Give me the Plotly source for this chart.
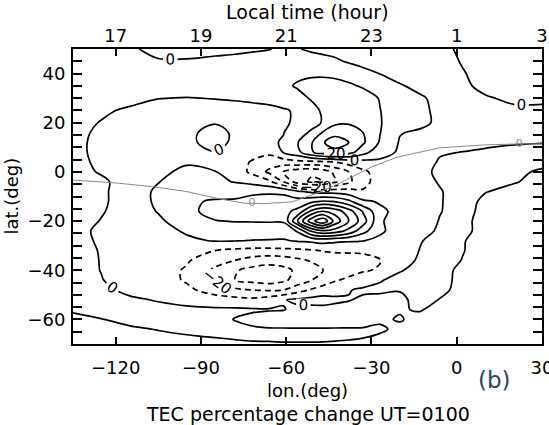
import plotly.graph_objects as go

# grid (deg) on which the TEC percentage change was read
lon = [-135, -125, -115, -105, -95, -85, -78, -72, -66, -61, -56, -51, -47, -43,
       -38, -33, -27, -20, -13, -6, 2, 10, 20, 30]
lat = [50, 45, 40, 35, 30, 25, 20, 16, 12, 8, 4, 0, -4, -8, -12, -16, -20, -24,
       -28, -32, -36, -40, -44, -48, -52, -56, -60, -64, -67, -70]

# TEC percentage change (%) at each lat row / lon column
tec_change = [
    [4, 3, 1, -2, -2, -2, -1.5, -1, -0.3, 1.5, 0.5, -1.5, -2.5, -3, -4, -4, -4, -4, -4, -1.5, 1, 3, 4, 4],
    [4, 4, 3, 0.6, 0.5, 1.5, 2, 3, 4, 5, 5, 4, 3, 1.5, -1, -3, -4, -4, -4, -3, 0.5, 3, 4, 4],
    [4, 5, 5, 4, 3, 3, 3, 4, 5, 7, 8, 8.5, 8.5, 8, 6, 3, -0.2, -3, -4, -4, -0.5, 2.5, 4, 4],
    [3, 5, 6, 5, 4, 4, 4, 5, 6, 8, 11, 13, 13.5, 13, 11.5, 9, 5, 0.7, -2, -3, -1.5, 2, 3, 3],
    [2, 4, 2, 0.2, -0.3, 0.3, 0.8, 1.5, 1.8, 4, 7, 11, 14, 15, 15, 14, 9.5, 4, 1, -2, -3, -0.8, 1.5, 1],
    [2, 1, -1, -3, -3.5, -3.5, -3, -2.5, -1.5, -0.8, 1, 7, 11.5, 16, 17, 16, 10.2, 5, 1.5, -1.5, -3, -3, -1.5, -1],
    [2, -0.3, -3, -4, -4, -0.5, -3, -3, -2.5, -0.8, 1, 6, 11, 18, 19, 17, 10.5, 5, 2.5, -2, -3.5, -4, -4, -4],
    [1.5, -1, -3, -3.5, -2, 3, -1.5, -3, -2, -0.3, 5, 12, 21, 26, 25, 20, 10.3, 0.5, -1.5, -3, -4, -4, -4, -4],
    [1.5, -1.5, -3, -3, -1.5, 2.5, -1.5, -3.5, -1.5, 0.8, 9.5, 19.5, 29, 36, 30, 21.5, 9, -0.8, -3, -4, -2, -1.5, -0.5, -0.2],
    [1.5, -1.5, -3, -3.5, -2, -0.3, -2.5, -6, -8, 0.5, 7, 19, 25, 26, 24, 14, 3, -1, -3, -0.5, 0.1, 1, 1.5, 2],
    [1.5, -1, -3, -3, -1, -1.5, -5, -11, -15, -15, -13, -13, -12, -10, -6, -3.5, -1.5, -2, -2.5, 0.5, 2, 2.5, 2.5, 2],
    [2, -0.5, -3, -2, 2, 0.2, -5, -12, -22, -30, -36, -38, -35, -28, -20, -12, -6, -3, -1.5, 1, 3, 3, 1.5, -1],
    [3, 1, -2.5, -0.2, 3, 2, -0.5, -3, -8, -20, -35, -42, -40, -32, -22, -13, -6, -3.5, -2.5, 0.5, 3.5, 2.5, 0.5, -2],
    [3, 1, -3, 1, 4, 6, 7, 8.5, 9, 8, 2, -2, -4, -4, -6, -9, -6, -4, -3, -0.5, 3, 0.3, -2, -3],
    [3, 1, -3, 1, 8.5, 11, 11, 12.5, 13, 14, 14, 17.5, 21, 19.4, 12.4, 1.6, -1, -3.5, -3, -0.5, 3, -1.5, -3.5, -4],
    [3, 0.5, -3, 0.3, 7, 14, 16, 17, 18, 17, 22.5, 43, 50, 46, 34.5, 19, 2, -3, -3, -0.3, 2.5, -2, -3.5, -4],
    [3, -0.3, -3.5, -1, 3, 9.5, 10.5, 10.6, 10.8, 11, 40, 67, 78, 57, 40, 25, 1, -4, -3.5, 0.3, 1.5, -2, -4, -4],
    [2.5, -1.5, -4, -3, 1, 4, 4, 4, 4, 4, 11, 32, 39, 36, 27, 13.5, 1.5, -4, -2.5, 1, 1.5, -2, -4, -4],
    [2.5, -1, -4, -3, -1.5, 0.5, 0.3, -0.3, -0.5, -0.8, 0.8, 2, 3.5, 2, 1, 0.3, -2, -4, -0.5, 2.5, 0.5, -3, -4, -4],
    [3, -0.5, -4, -5, -7, -10, -12, -13, -13, -12.5, -12, -11, -9.5, -9, -9, -9, -7, -4, 0.2, 3, 0.3, -2.5, -4, -4],
    [3, -0.3, -4, -5, -9, -16, -20, -24, -26, -25, -22, -19, -16, -14, -13, -12, -10.5, -3, 1, 3, -0.2, -4, -4, -4],
    [3, -0.2, -4, -6, -11, -22, -29, -33, -35, -33, -28, -24, -20, -17, -14, -11, -9, -0.5, 2, 3, -2, -4, -4, -4],
    [3, 0.3, -3.5, -6, -11, -22, -30, -33, -35, -32, -26, -20, -15, -11, -8, -5, -0.5, 2, 3, 3, -2.5, -4, -4, -4],
    [3, 1.5, -1.5, -4, -8, -14, -18, -20, -21, -20, -14, -9, -6, -4, -0.5, 1.5, 1.5, 0.5, 2, 2, -2.5, -4, -4, -4],
    [3, 4, 1, -0.5, -2.5, -6, -7, -8, -5, -0.5, 1.5, 3, 4, 2, 0.5, -1.5, -2.5, -2, 3, -0.3, -4, -4, -4, -4],
    [1, 3, 3, 2, 1.5, 1.5, 1.5, 1, 0.5, 0.3, -1.5, -2.5, -3, -3, -3, -3, -3, -0.5, 0.5, -2, -4, -4, -4, -4],
    [-2, -0.2, 1.5, 3, 3, 2.5, -0.3, -2, -3, -3.5, -4, -4, -4, -3.5, -3, -2.5, -1, 0.5, -2, -4, -4, -4, -4, -4],
    [-3, -2.5, -0.8, 0.2, 1.5, 2, 2, 1, 0.5, 0.5, 0.5, 0.5, 0.5, 0.5, 0.5, 0.5, 1, -1.5, -4, -4, -4, -4, -4, -4],
    [-4, -3.5, -2, -1, -0.5, 0.3, 1, 1.5, 1.5, 1.5, 1.5, 1.5, 1.5, 1.3, 1, 0.5, -0.8, -3, -4, -4, -4, -4, -4, -4],
    [-4.5, -4, -3.5, -3, -2.5, -2, -1.5, -1, -0.8, -0.5, -0.5, -0.5, -0.6, -0.8, -1.2, -2, -3, -4, -4, -4, -4, -4, -4, -4],
]

# magnetic (dip) equator
dip_lon = [-135, -120, -107, -95, -85, -75, -68, -58, -49, -41, -30, -21, -6, 10, 22, 30]
dip_lat = [-3.3, -4.5, -6, -8, -10.6, -12.7, -12.9, -12.2, -8.6, -4.5, 2, 6, 9.8, 11, 11.4, 11.4]
dip_lbl_lon = [-72, 22]
dip_lbl_lat = [-12.8, 11.4]
dip_lbl = ["0", "0"]

# axes ticks
lon_ticks = [-120, -90, -60, -30, 0, 30]
lt_ticks = ["17", "19", "21", "23", "1", "3"]
lat_ticks = [-60, -40, -20, 0, 20, 40]

FONT = "DejaVu Sans"
fig = go.Figure()

def contour(start, end, size, dash, labels=False):
    return go.Contour(
        x=lon, y=lat, z=tec_change, autocontour=False, showscale=False,
        hoverinfo="skip",
        contours=dict(start=start, end=end, size=size, coloring="none",
                      showlabels=labels,
                      labelfont=dict(family=FONT, size=15, color="black")),
        line=dict(color="black", width=1.7, dash=dash, smoothing=1.0),
    )

DASH = "6px,4px"
fig.add_trace(contour(-50, -30, 10, DASH))
fig.add_trace(contour(-20, -19.5, 1, DASH, labels=True))
fig.add_trace(contour(-10, -9.5, 1, DASH))
fig.add_trace(contour(0, 0.5, 1, "solid", labels=True))
fig.add_trace(contour(10, 10.5, 1, "solid"))
fig.add_trace(contour(20, 20.5, 1, "solid", labels=True))
fig.add_trace(contour(30, 90, 10, "solid"))

fig.add_trace(go.Scatter(x=dip_lon, y=dip_lat, mode="lines", xaxis="x2",
                         line=dict(color="#8a8a8a", width=1), hoverinfo="skip"))
fig.add_trace(go.Scatter(x=dip_lbl_lon, y=dip_lbl_lat, mode="text", text=dip_lbl,
                         xaxis="x2", textfont=dict(family=FONT, size=11, color="#8a8a8a"),
                         hoverinfo="skip"))

axis_common = dict(showgrid=False, zeroline=False, linecolor="black", linewidth=2,
                   tickcolor="black", tickwidth=1.5,
                   tickfont=dict(family=FONT, size=18, color="black"))

fig.update_layout(
    width=549, height=425,
    margin=dict(l=73, r=7, t=49, b=81),
    paper_bgcolor="white", plot_bgcolor="white",
    showlegend=False,
    font=dict(family=FONT, size=18, color="black"),
    xaxis=dict(range=[-135, 30], tickvals=lon_ticks, ticks="inside", ticklen=7,
               showline=True, mirror="ticks", automargin=False,
               ticklabelstandoff=6, ticklabeloverflow="allow", **axis_common),
    xaxis2=dict(range=[-135, 30], overlaying="x", side="top", tickvals=lon_ticks,
                ticktext=lt_ticks, ticks="", showline=False, automargin=False,
                ticklabelstandoff=2, ticklabeloverflow="allow", **axis_common),
    yaxis=dict(range=[-70, 50], tickvals=lat_ticks, ticks="inside", ticklen=9,
               showline=True, mirror="allticks", automargin=False,
               minor=dict(dtick=5, ticks="inside", ticklen=6, tickcolor="black", tickwidth=1.5),
               ticklabelstandoff=2, **axis_common),
    annotations=[
        dict(text="Local time (hour)", xref="paper", yref="paper", x=0.5, y=1.124,
             xanchor="center", yanchor="middle", showarrow=False,
             font=dict(family=FONT, size=19)),
        dict(text="lon.(deg)", xref="paper", yref="paper", x=0.5, y=-0.158,
             xanchor="center", yanchor="middle", showarrow=False,
             font=dict(family=FONT, size=18)),
        dict(text="TEC percentage change UT=0100", xref="paper", yref="paper",
             x=0.5, y=-0.236, xanchor="center", yanchor="middle", showarrow=False,
             font=dict(family=FONT, size=19)),
        dict(text="lat.(deg)", xref="paper", yref="paper", x=-0.132, y=0.5,
             xanchor="center", yanchor="middle", textangle=-90, showarrow=False,
             font=dict(family=FONT, size=18)),
        dict(text="(b)", xref="paper", yref="paper", x=0.898, y=-0.122,
             xanchor="center", yanchor="middle", showarrow=False,
             font=dict(family=FONT, size=23, color="#2e4463")),
    ],
)

fig.write_html("out.html")
